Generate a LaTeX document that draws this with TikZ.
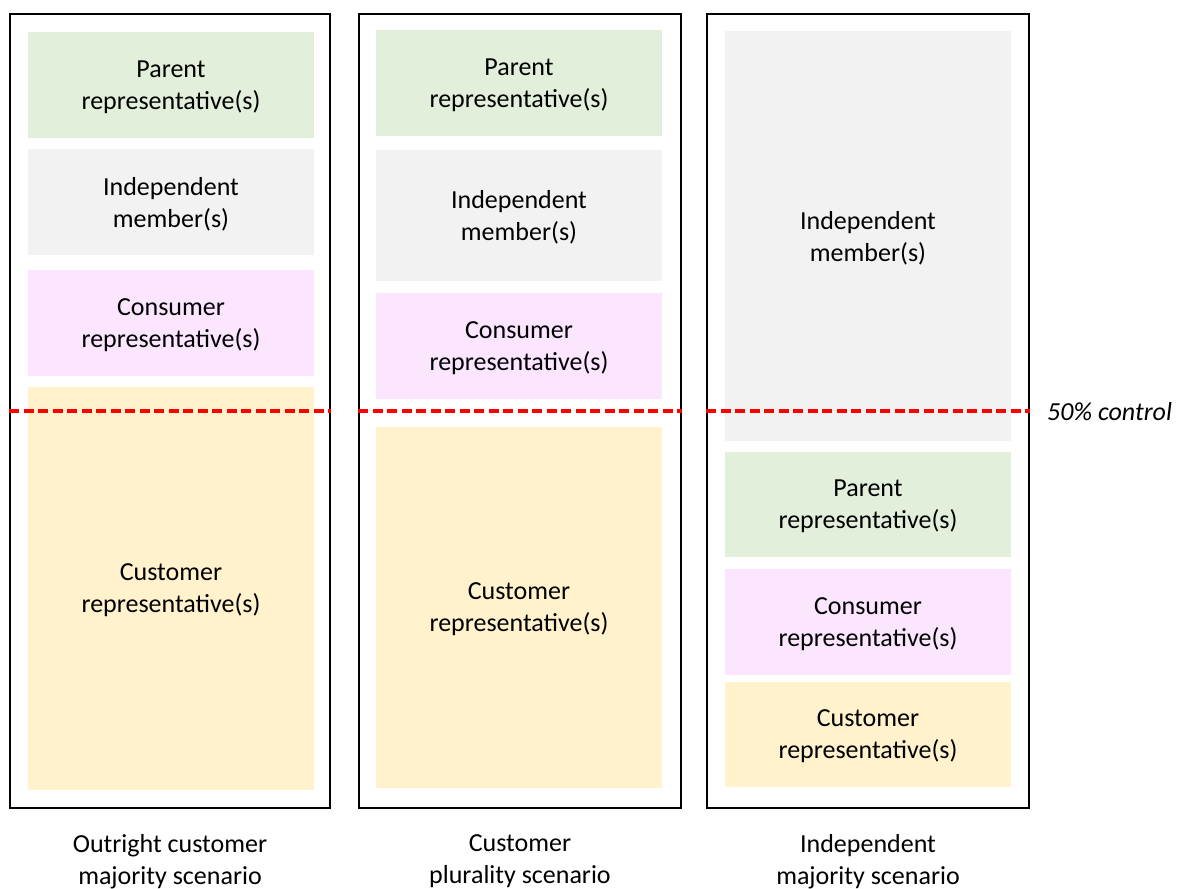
\documentclass[tikz,border=0pt]{standalone}
\usepackage{fontspec}
\setmainfont{Carlito}
\usetikzlibrary{positioning}

\definecolor{parentgreen}{RGB}{226,239,218}
\definecolor{indepgrey}{RGB}{242,242,242}
\definecolor{consumerpink}{RGB}{251,229,255}
\definecolor{customeryellow}{RGB}{255,242,204}

\begin{document}
\begin{tikzpicture}[x=1pt, y=-1pt,
        every node/.style={font=\fontsize{26}{32}\selectfont, align=center, text depth=0pt},
        board/.style={draw=black, line width=2pt, minimum width=#1, minimum height=794pt, inner sep=0pt},
        member/.style={fill=#1, minimum width=286pt, inner sep=0pt},
        half/.style={red, line width=3.2pt, dash pattern=on 10pt off 4.5pt}]
        \useasboundingbox (0, 0) rectangle (1179, 889);

        % the three boards
        \node [board=320pt] (box1) at (170, 411) {};
        \node [board=322pt] (box2) at (520, 411) {};
        \node [board=322pt] (box3) at (868, 411) {};

        % outright customer majority
        \node [member=parentgreen, minimum height=106pt] (par1) at (171, 85) {Parent\\representative(s)};
        \node [member=indepgrey, minimum height=106pt] (ind1) at (171, 202) {Independent\\member(s)};
        \node [member=consumerpink, minimum height=106pt] (con1) at (171, 323) {Consumer\\representative(s)};
        \node [member=customeryellow, minimum height=403pt] (cus1) at (171, 588.5) {Customer\\representative(s)};

        % customer plurality
        \node [member=parentgreen, minimum height=106pt] (par2) at (519, 83) {Parent\\representative(s)};
        \node [member=indepgrey, minimum height=131pt] (ind2) at (519, 215.5) {Independent\\member(s)};
        \node [member=consumerpink, minimum height=106pt] (con2) at (519, 346) {Consumer\\representative(s)};
        \node [member=customeryellow, minimum height=361pt] (cus2) at (519, 607.5) {Customer\\representative(s)};

        % independent majority
        \node [member=indepgrey, minimum height=410pt] (ind3) at (868, 236) {Independent\\member(s)};
        \node [member=parentgreen, minimum height=105pt] (par3) at (868, 504.5) {Parent\\representative(s)};
        \node [member=consumerpink, minimum height=106pt] (con3) at (868, 622) {Consumer\\representative(s)};
        \node [member=customeryellow, minimum height=105pt] (cus3) at (868, 734.5) {Customer\\representative(s)};

        % 50% line
        \foreach \b in {box1, box2, box3}
        {
            \draw [half] (\b.west) -- (\b.east);
        }
        \node [right=17pt of box3.east, inner sep=0pt, font=\fontsize{26}{32}\selectfont\itshape] (ctrl) {50\% control};

        \node at (170, 859) (lab1) {Outright customer\\majority scenario};
        \node at (520, 859) (lab2) {Customer\\plurality scenario};
        \node at (868, 859) (lab3) {Independent\\majority scenario};
    \end{tikzpicture}
\end{document}
